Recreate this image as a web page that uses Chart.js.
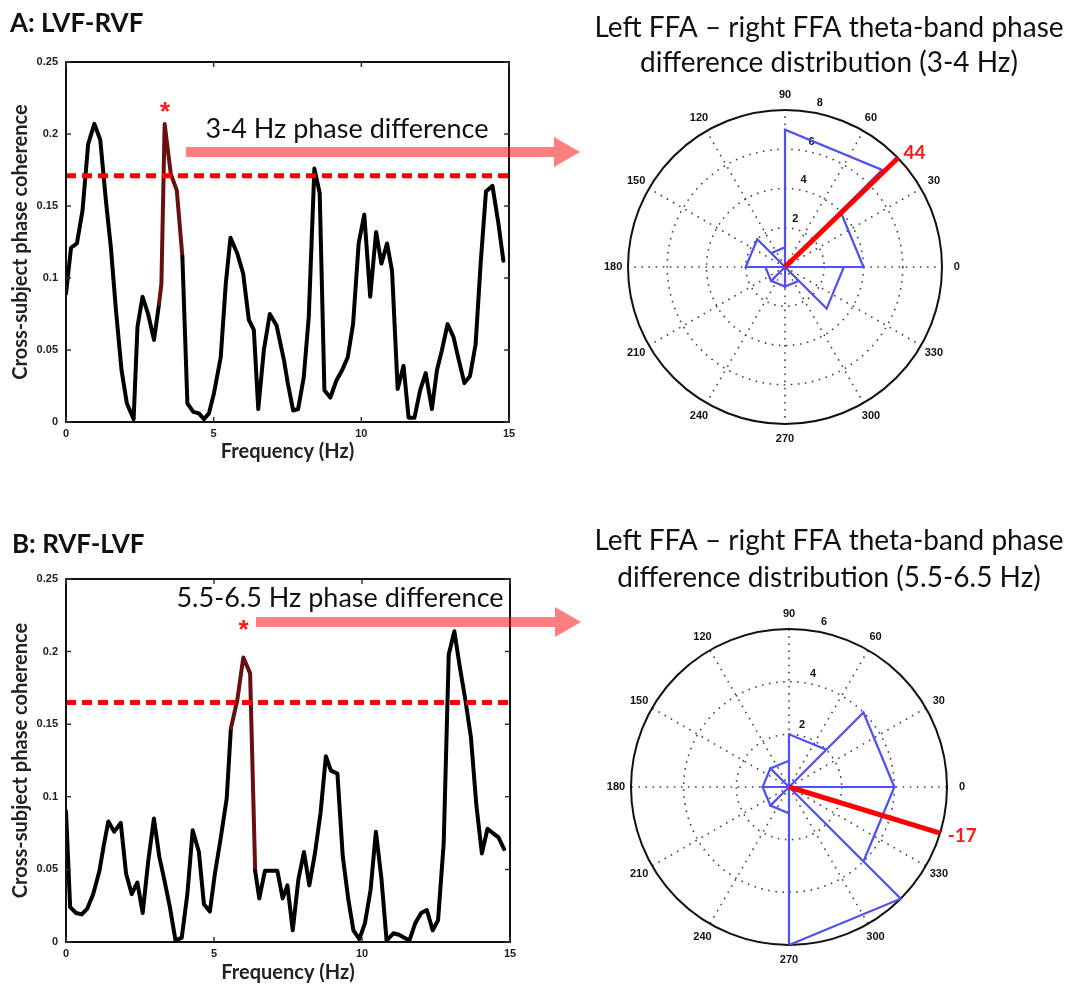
<!DOCTYPE html>
<html>
<head>
<meta charset="utf-8">
<script src="https://cdn.jsdelivr.net/npm/chart.js@4.4.0/dist/chart.umd.min.js"></script>
<style>
  body { margin: 0; background: #fff; }
  #wrap { position: relative; width: 1070px; height: 989px; overflow: hidden; }
  canvas { position: absolute; }
</style>
</head>
<body>
<div id="wrap">
  <canvas id="cohA" width="590" height="500" style="left:0;top:0"></canvas>
  <canvas id="cohB" width="590" height="489" style="left:0;top:500px"></canvas>
  <canvas id="roseA" width="490" height="500" style="left:580px;top:0"></canvas>
  <canvas id="roseB" width="490" height="489" style="left:580px;top:500px"></canvas>
</div>
<script>
// A: LVF-RVF, cross-subject phase coherence by frequency
const freqA = [0,0.17,0.37,0.56,0.75,0.96,1.16,1.35,1.52,1.69,1.88,2.06,2.29,2.42,2.59,2.78,2.98,3.15,3.23,3.34,
  3.55,3.75,3.94,4.11,4.31,4.5,4.67,4.84,5.01,5.24,5.41,5.57,5.8,6.0,6.19,6.36,6.51,6.7,6.9,7.13,
  7.38,7.51,7.69,7.86,8.05,8.22,8.41,8.59,8.75,8.95,9.16,9.35,9.54,9.72,9.91,10.1,10.3,10.5,10.68,10.87,
  11.04,11.23,11.43,11.6,11.8,11.99,12.18,12.39,12.56,12.73,12.92,13.12,13.3,13.49,13.68,13.87,14.04,14.22,14.44,14.64,14.81];
const cohA = [0.089,0.121,0.124,0.147,0.193,0.207,0.196,0.154,0.121,0.078,0.036,0.013,0.002,0.066,0.087,0.075,0.057,0.082,0.096,0.207,
  0.172,0.161,0.115,0.013,0.007,0.006,0.002,0.006,0.020,0.045,0.096,0.128,0.117,0.103,0.071,0.064,0.009,0.050,0.075,0.067,
  0.043,0.027,0.008,0.009,0.031,0.073,0.176,0.159,0.022,0.017,0.029,0.036,0.045,0.068,0.124,0.144,0.087,0.132,0.110,0.124,
  0.105,0.023,0.039,0.003,0.003,0.022,0.034,0.009,0.036,0.050,0.068,0.059,0.043,0.027,0.032,0.054,0.110,0.160,0.164,0.138,0.112];
const thresholdA = 0.171;
const bandA = [3.1, 3.95];     // highlighted 3-4 Hz stretch
const starA = [3.35, 0.22];

// B: RVF-LVF
const freqB = [0,0.14,0.34,0.53,0.72,0.92,1.13,1.28,1.43,1.63,1.85,2.03,2.22,2.41,2.59,2.78,2.97,3.15,3.32,3.51,
  3.7,3.91,4.1,4.28,4.49,4.66,4.86,5.03,5.23,5.43,5.57,5.79,5.99,6.22,6.39,6.53,6.72,6.95,7.14,7.32,
  7.48,7.66,7.85,8.04,8.22,8.41,8.6,8.78,8.95,9.17,9.35,9.54,9.71,9.91,10.1,10.29,10.47,10.66,10.83,11.06,
  11.25,11.43,11.6,11.8,12.0,12.19,12.39,12.57,12.76,12.93,13.12,13.3,13.49,13.68,13.86,14.05,14.24,14.42,14.61,14.8];
const cohB = [0.090,0.024,0.020,0.019,0.023,0.033,0.049,0.067,0.083,0.076,0.082,0.047,0.033,0.041,0.020,0.056,0.085,0.059,0.043,0.024,
  0.001,0.003,0.033,0.077,0.062,0.026,0.021,0.047,0.072,0.099,0.147,0.167,0.196,0.185,0.049,0.030,0.049,0.049,0.049,0.030,
  0.039,0.008,0.043,0.062,0.039,0.061,0.089,0.128,0.118,0.116,0.059,0.029,0.008,0.002,0.013,0.036,0.076,0.043,0.001,0.006,
  0.005,0.003,0.001,0.013,0.020,0.022,0.008,0.015,0.068,0.198,0.214,0.190,0.167,0.141,0.095,0.061,0.078,0.075,0.072,0.064];
const thresholdB = 0.165;
const bandB = [5.65, 6.45];
const starB = [6.0, 0.22];

// rose histograms of phase difference (45 degree bins), counts of subjects
const binEdges = [0, 45, 90, 135, 180, 225, 270, 315];
const countsA = [4, 7, 1, 2, 1, 1, 1, 3];
const countsB = [4, 2, 1, 1, 1, 1, 6, 4];
const meanPhaseA = 44;
const meanPhaseB = -17;
const ringsA = [2, 4, 6], rmaxA = 8;
const ringsB = [2, 4], rmaxB = 6;
const angleLabels = [0, 30, 60, 90, 120, 150, 180, 210, 240, 270, 300, 330];

const DARKRED = '#6a0f0f';
const rad = d => d * Math.PI / 180;

// MATLAB style box with inward ticks
const boxPlugin = {
  id: 'box',
  afterDatasetsDraw(chart) {
    const { ctx, chartArea: a, scales: { x, y } } = chart;
    ctx.save();
    ctx.strokeStyle = '#111';
    ctx.lineWidth = 2;
    ctx.strokeRect(a.left, a.top, a.right - a.left, a.bottom - a.top);
    ctx.lineWidth = 1.5;
    ctx.strokeStyle = '#333';
    ctx.beginPath();
    x.ticks.forEach(t => {
      const p = x.getPixelForValue(t.value);
      ctx.moveTo(p, a.bottom); ctx.lineTo(p, a.bottom - 5);
      ctx.moveTo(p, a.top); ctx.lineTo(p, a.top + 5);
    });
    y.ticks.forEach(t => {
      const p = y.getPixelForValue(t.value);
      ctx.moveTo(a.left, p); ctx.lineTo(a.left + 5, p);
      ctx.moveTo(a.right, p); ctx.lineTo(a.right - 5, p);
    });
    ctx.stroke();
    ctx.restore();
  }
};

const cohDecor = {
  id: 'cohDecor',
  afterDraw(chart, args, o) {
    const { ctx, scales: { x, y } } = chart;
    ctx.save();
    ctx.fillStyle = '#111';
    ctx.textAlign = 'left';
    ctx.textBaseline = 'alphabetic';
    ctx.font = 'bold 26px Lato';
    ctx.fillText(o.panel, o.panelX, o.panelY);
    // arrow towards the rose plot
    ctx.fillStyle = 'rgba(255,0,0,0.5)';
    const head = 26;
    ctx.fillRect(o.arrowX0, o.arrowY - 5, o.arrowX1 - head - o.arrowX0, 10);
    ctx.beginPath();
    ctx.moveTo(o.arrowX1 - head, o.arrowY - 15);
    ctx.lineTo(o.arrowX1, o.arrowY);
    ctx.lineTo(o.arrowX1 - head, o.arrowY + 15);
    ctx.closePath();
    ctx.fill();
    ctx.fillStyle = '#111';
    ctx.textAlign = 'center';
    ctx.font = '27px Lato';
    ctx.fillText(o.note, o.noteX, o.noteY);
    // significance star
    ctx.fillStyle = '#ff1a1a';
    ctx.font = 'bold 26px "Liberation Sans"';
    ctx.fillText('*', x.getPixelForValue(o.star[0]), y.getPixelForValue(o.star[1]) + 15);
    ctx.restore();
  }
};

function cohChart(id, freq, coh, thr, band, pad, xh, decor) {
  const pts = freq.map((f, i) => ({ x: f, y: coh[i] }));
  const inBand = c => {
    const m = (c.p0.parsed.x + c.p1.parsed.x) / 2;
    return m >= band[0] && m <= band[1];
  };
  return new Chart(document.getElementById(id), {
    type: 'line',
    data: {
      datasets: [
        {
          data: [{ x: 0, y: thr }, { x: 15, y: thr }],
          borderColor: '#ff0000', borderWidth: 5, borderDash: [10, 6],
          pointRadius: 0
        },
        {
          data: pts,
          borderColor: '#000', borderWidth: 4, pointRadius: 0, tension: 0,
          borderJoinStyle: 'round', borderCapStyle: 'round',
          segment: { borderColor: c => inBand(c) ? DARKRED : '#000' }
        }
      ]
    },
    options: {
      responsive: false,
      animation: false,
      layout: { padding: pad },
      plugins: { legend: { display: false }, tooltip: { enabled: false }, cohDecor: decor },
      scales: {
        x: {
          type: 'linear', min: 0, max: 15,
          grid: { display: false, drawTicks: false },
          border: { display: false },
          ticks: { stepSize: 5, padding: 5, color: '#222', font: { family: 'Liberation Sans', size: 11, weight: 'bold' } },
          title: { display: true, text: 'Frequency (Hz)', color: '#222', padding: 0,
                   font: { family: 'Lato', size: 20, weight: 'bold' } },
          afterFit: s => { s.height = xh; }
        },
        y: {
          min: 0, max: 0.25,
          grid: { display: false, drawTicks: false },
          border: { display: false },
          ticks: { stepSize: 0.05, padding: 8, color: '#222',
                   font: { family: 'Liberation Sans', size: 11, weight: 'bold' },
                   callback: v => String(+v.toFixed(2)) },
          title: { display: true, text: 'Cross-subject phase coherence', color: '#222',
                   padding: { top: 9, bottom: 0 },
                   font: { family: 'Lato', size: 20, weight: 'bold' } },
          afterFit: s => { s.width = 66; }
        }
      }
    },
    plugins: [boxPlugin, cohDecor]
  });
}

cohChart('cohA', freqA, cohA, thresholdA, bandA,
  { left: 0, top: 62, right: 81, bottom: 36 }, 42,
  { panel: 'A: LVF-RVF', panelX: 10, panelY: 32, arrowX0: 186, arrowX1: 580, arrowY: 152,
    note: '3-4 Hz phase difference', noteX: 347, noteY: 138, star: starA });
cohChart('cohB', freqB, cohB, thresholdB, bandB,
  { left: 0, top: 79, right: 80, bottom: 4 }, 43,
  { panel: 'B: RVF-LVF', panelX: 12, panelY: 53, arrowX0: 256, arrowX1: 581, arrowY: 122,
    note: '5.5-6.5 Hz phase difference', noteX: 340, noteY: 107, star: starB });

// polar grid, labels and titles
const polarDecor = {
  id: 'polarDecor',
  beforeDatasetsDraw(chart, args, o) {
    const { ctx, scales: { x, y } } = chart;
    const cx = x.getPixelForValue(0), cy = y.getPixelForValue(0);
    const k = x.getPixelForValue(1) - cx;
    const R = o.rmax * k;
    ctx.save();
    ctx.strokeStyle = '#444';
    ctx.lineWidth = 1.6;
    ctx.setLineDash([1.6, 5.5]);
    o.rings.forEach(r => {
      ctx.beginPath(); ctx.arc(cx, cy, r * k, 0, 2 * Math.PI); ctx.stroke();
    });
    angleLabels.forEach(a => {
      ctx.beginPath();
      ctx.moveTo(cx, cy);
      ctx.lineTo(cx + R * Math.cos(rad(a)), cy - R * Math.sin(rad(a)));
      ctx.stroke();
    });
    ctx.setLineDash([]);
    ctx.strokeStyle = '#111';
    ctx.lineWidth = 2;
    ctx.beginPath(); ctx.arc(cx, cy, R, 0, 2 * Math.PI); ctx.stroke();
    ctx.fillStyle = '#111';
    ctx.textAlign = 'center';
    ctx.textBaseline = 'middle';
    ctx.font = 'bold 11px "Liberation Sans"';
    angleLabels.forEach(a => {
      ctx.fillText(String(a), cx + 1.095 * R * Math.cos(rad(a)), cy - 1.095 * R * Math.sin(rad(a)));
    });
    o.rings.concat([o.rmax]).forEach(r => {
      const rr = (r + 0.065 * o.rmax) * k;
      ctx.fillText(String(r), cx + rr * Math.cos(rad(78)), cy - rr * Math.sin(rad(78)));
    });
    ctx.restore();
  },
  afterDraw(chart, args, o) {
    const { ctx, scales: { x, y } } = chart;
    const cx = x.getPixelForValue(0), cy = y.getPixelForValue(0);
    const R = o.rmax * (x.getPixelForValue(1) - cx);
    ctx.save();
    ctx.fillStyle = '#111';
    ctx.textAlign = 'center';
    ctx.textBaseline = 'alphabetic';
    ctx.font = '28px Lato';
    o.title.forEach((t, i) => ctx.fillText(t, o.titleX, o.titleY[i]));
    ctx.fillStyle = '#ff1a1a';
    ctx.font = 'bold 19px Lato';
    ctx.textAlign = 'left';
    ctx.textBaseline = 'middle';
    const r = 1.05 * R;
    ctx.fillText(String(o.phase), cx + r * Math.cos(rad(o.phase)), cy - r * Math.sin(rad(o.phase)));
    ctx.restore();
  }
};

function rosePoints(counts) {
  const pts = [];
  counts.forEach((c, i) => {
    const a0 = rad(binEdges[i]), a1 = rad(binEdges[i] + 45);
    pts.push({ x: 0, y: 0 });
    pts.push({ x: c * Math.cos(a0), y: c * Math.sin(a0) });
    pts.push({ x: c * Math.cos(a1), y: c * Math.sin(a1) });
  });
  pts.push({ x: 0, y: 0 });
  return pts;
}

function roseChart(id, counts, phase, rings, rmax, pad, decor) {
  return new Chart(document.getElementById(id), {
    type: 'scatter',
    data: {
      datasets: [
        {
          data: [{ x: 0, y: 0 }, { x: rmax * Math.cos(rad(phase)), y: rmax * Math.sin(rad(phase)) }],
          showLine: true, borderColor: '#ff0000', borderWidth: 5, pointRadius: 0
        },
        {
          data: rosePoints(counts),
          showLine: true, borderColor: '#5050f2', borderWidth: 2.2, pointRadius: 0, tension: 0
        }
      ]
    },
    options: {
      responsive: false,
      animation: false,
      layout: { padding: pad },
      plugins: { legend: { display: false }, tooltip: { enabled: false },
                 polarDecor: Object.assign({ rings, rmax, phase }, decor) },
      scales: {
        x: { type: 'linear', min: -rmax, max: rmax, display: false },
        y: { type: 'linear', min: -rmax, max: rmax, display: false }
      }
    },
    plugins: [polarDecor]
  });
}

roseChart('roseA', countsA, meanPhaseA, ringsA, rmaxA,
  { left: 48, right: 128, top: 110, bottom: 76 },
  { title: ['Left FFA \u2013 right FFA theta-band phase', 'difference distribution (3-4 Hz)'],
    titleX: 249, titleY: [37, 72] });
roseChart('roseB', countsB, meanPhaseB, ringsB, rmaxB,
  { left: 51, right: 123, top: 129, bottom: 44 },
  { title: ['Left FFA \u2013 right FFA theta-band phase', 'difference distribution (5.5-6.5 Hz)'],
    titleX: 249, titleY: [50, 87] });
</script>
</body>
</html>
